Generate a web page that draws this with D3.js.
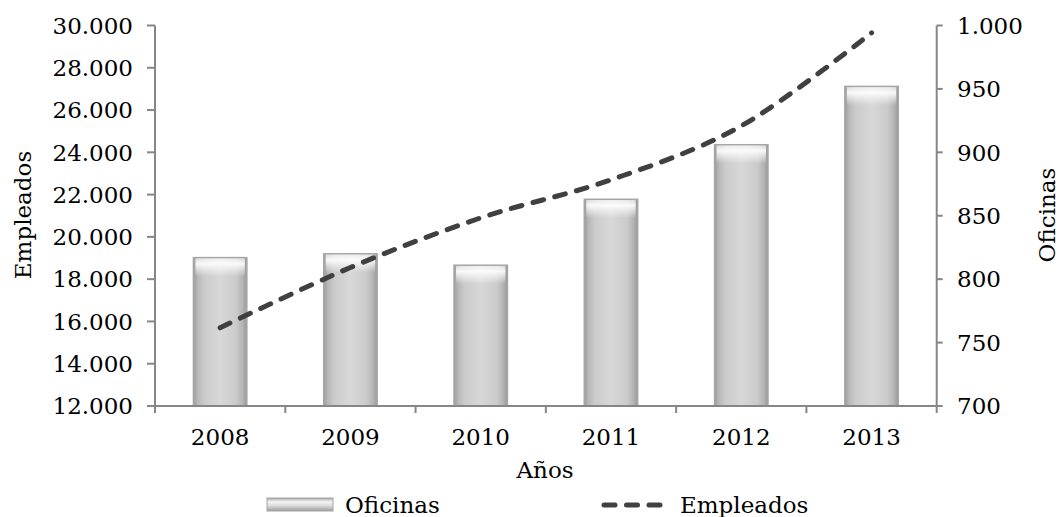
<!DOCTYPE html>
<html><head><meta charset="utf-8">
<script src="https://cdn.jsdelivr.net/npm/d3@7"></script>
<style>
body{margin:0;background:#fff;}
svg text{font-family:"DejaVu Serif",serif;font-size:23px;fill:#000;}
</style></head>
<body><svg id="c" width="1059" height="517"></svg>
<script>
const years = ["2008","2009","2010","2011","2012","2013"];
const oficinas = [817, 820, 811, 863, 906, 952];
const empleados = [15700, 18550, 20900, 22700, 25250, 29650];
const leftTicks = [12000,14000,16000,18000,20000,22000,24000,26000,28000,30000];
const rightTicks = [700,750,800,850,900,950,1000];

const svg = d3.select("#c");
const L = 155, R = 936.7, T = 25.5, B = 406;
const x = d3.scaleBand().domain(years).range([L, R]).paddingInner(0.59).paddingOuter(0.295);
const xb = d3.scaleBand().domain(years).range([L, R]);
const yL = d3.scaleLinear().domain([12000, 30000]).range([B, T]);
const yR = d3.scaleLinear().domain([700, 1000]).range([B, T]);
const fmt = v => d3.format(",")(v).replace(/,/g, ".");

const defs = svg.append("defs");
const g1 = defs.append("linearGradient").attr("id","barH").attr("x1","0").attr("x2","1").attr("y1","0").attr("y2","0");
[[0,"#9c9c9c"],[0.08,"#b8b8b8"],[0.2,"#cbcbcb"],[0.5,"#d8d8d8"],[0.8,"#cbcbcb"],[0.92,"#b4b4b4"],[1,"#989898"]]
  .forEach(([o,c])=>g1.append("stop").attr("offset",o).attr("stop-color",c));
const g2 = defs.append("linearGradient").attr("id","barTop").attr("x1","0").attr("x2","0").attr("y1","0").attr("y2","1");
[[0,"#ffffff",0.55],[0.3,"#ffffff",0.9],[1,"#ffffff",0]]
  .forEach(([o,c,a])=>g2.append("stop").attr("offset",o).attr("stop-color",c).attr("stop-opacity",a));
const g3 = defs.append("linearGradient").attr("id","legV").attr("x1","0").attr("x2","0").attr("y1","0").attr("y2","1");
[[0,"#a8a8a8"],[0.3,"#f4f4f4"],[0.55,"#e0e0e0"],[0.85,"#b4b4b4"],[1,"#9a9a9a"]]
  .forEach(([o,c])=>g3.append("stop").attr("offset",o).attr("stop-color",c));

// bars
const bars = svg.append("g");
years.forEach((yr,i)=>{
  const bx = x(yr), bw = x.bandwidth(), by = yR(oficinas[i]);
  bars.append("rect").attr("x",bx).attr("y",by).attr("width",bw).attr("height",B-by)
    .attr("fill","url(#barH)").attr("stroke","#a6a6a6").attr("stroke-width",1.5);
  bars.append("rect").attr("x",bx+2).attr("y",by+0.75).attr("width",bw-4).attr("height",Math.min(18,B-by))
    .attr("fill","url(#barTop)");
});

// axes
const axG = svg.append("g").attr("stroke","#868686").attr("stroke-width",2).attr("fill","none");
axG.append("line").attr("x1",L).attr("x2",L).attr("y1",T).attr("y2",B);
axG.append("line").attr("x1",R).attr("x2",R).attr("y1",T).attr("y2",B);
axG.append("line").attr("x1",L).attr("x2",R).attr("y1",B).attr("y2",B);
leftTicks.forEach(t=>axG.append("line").attr("x1",L-8).attr("x2",L).attr("y1",yL(t)).attr("y2",yL(t)));
rightTicks.forEach(t=>axG.append("line").attr("x1",R).attr("x2",R+6).attr("y1",yR(t)).attr("y2",yR(t)));
years.forEach(yr=>axG.append("line").attr("x1",xb(yr)).attr("x2",xb(yr)).attr("y1",B).attr("y2",B+7));
axG.append("line").attr("x1",R).attr("x2",R).attr("y1",B).attr("y2",B+7);

svg.append("g").selectAll("text").data(leftTicks).join("text")
  .attr("x",133).attr("y",d=>yL(d)).attr("dy","0.36em").attr("text-anchor","end").text(fmt);
svg.append("g").selectAll("text").data(rightTicks).join("text")
  .attr("x",957).attr("y",d=>yR(d)).attr("dy","0.36em").attr("text-anchor","start").text(fmt);
svg.append("g").selectAll("text").data(years).join("text")
  .attr("x",d=>xb(d)+xb.bandwidth()/2).attr("y",445).attr("text-anchor","middle").text(d=>d);

svg.append("text").attr("x",545).attr("y",478).attr("text-anchor","middle").text("Años");
svg.append("text").attr("transform","translate(31,215) rotate(-90)").attr("text-anchor","middle").text("Empleados");
svg.append("text").attr("transform","translate(1055,215) rotate(-90)").attr("text-anchor","middle").text("Oficinas");

// line
const line = d3.line().x((d,i)=>xb(years[i])+xb.bandwidth()/2).y(d=>yL(d)).curve(d3.curveCardinal.tension(0));
svg.append("path").datum(empleados).attr("d",line).attr("fill","none")
  .attr("stroke","#404040").attr("stroke-width",5).attr("stroke-linecap","round")
  .attr("stroke-dasharray","11,11.5");

// legend
svg.append("rect").attr("x",267).attr("y",498).attr("width",66).attr("height",13)
  .attr("fill","url(#legV)").attr("stroke","#a6a6a6").attr("stroke-width",1);
svg.append("text").attr("x",345).attr("y",513).text("Oficinas");
svg.append("line").attr("x1",604).attr("x2",668).attr("y1",505).attr("y2",505)
  .attr("stroke","#404040").attr("stroke-width",5).attr("stroke-linecap","round").attr("stroke-dasharray","11,11.5");
svg.append("text").attr("x",680).attr("y",513).text("Empleados");
</script></body></html>
